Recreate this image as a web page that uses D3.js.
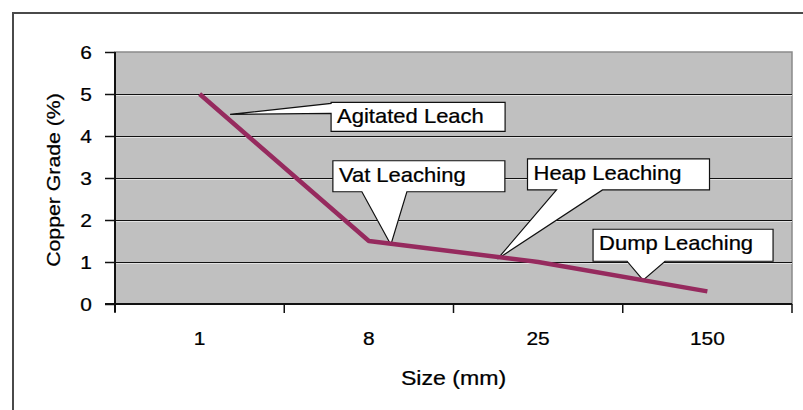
<!DOCTYPE html>
<html>
<head>
<meta charset="utf-8">
<script src="https://cdn.jsdelivr.net/npm/d3@7"></script>
<style>
  html, body { margin: 0; padding: 0; background: #fff; }
  svg { display: block; }
  text { font-family: "Liberation Sans", Arial, sans-serif; fill: #000; stroke: #000; stroke-width: 0.25px; }
</style>
</head>
<body>
<svg id="chart" width="803" height="410"></svg>
<script>
// ---- data ----
const categories = ["1", "8", "25", "150"];
const copperGrade = [5.0, 1.5, 1.0, 0.3];
const yTickValues = [0, 1, 2, 3, 4, 5, 6];
const calloutLabels = ["Agitated Leach", "Vat Leaching", "Heap Leaching", "Dump Leaching"];
// callout anchor: segment index along the line and fraction within it
const calloutSegments = [0, 1, 1, 2];
const calloutFractions = [0.18, 0.13, 0.76, 0.62];
const xTitle = "Size (mm)";
const yTitle = "Copper Grade (%)";

// ---- layout ----
const W = 803, H = 410;
const plot = { left: 115, top: 52, right: 792, bottom: 304 };
const SX = 1.1; // horizontal text stretch seen in the reference

const svg = d3.select("#chart");

// outer chart border
svg.append("rect")
  .attr("x", 13).attr("y", 13)
  .attr("width", W + 20).attr("height", H + 20)
  .attr("fill", "#fff").attr("stroke", "#4a4a4a").attr("stroke-width", 2);

const x = d3.scaleBand().domain(categories).range([plot.left, plot.right]).padding(0);
const y = d3.scaleLinear().domain([0, 6]).range([plot.bottom, plot.top]);
const cx = c => x(c) + x.bandwidth() / 2;

// plot area
svg.append("rect")
  .attr("x", plot.left).attr("y", plot.top)
  .attr("width", plot.right - plot.left).attr("height", plot.bottom - plot.top)
  .attr("fill", "#c0c0c0").attr("stroke", "#8a8a8a").attr("stroke-width", 1.5);

// gridlines
const grid = svg.append("g");
yTickValues.filter(v => v > 0 && v < 6).forEach(v => {
  grid.append("line")
    .attr("x1", plot.left).attr("x2", plot.right)
    .attr("y1", Math.round(y(v)) + 1.5).attr("y2", Math.round(y(v)) + 1.5)
    .attr("stroke", "#e2e2e2").attr("stroke-width", 1);
  grid.append("line")
    .attr("x1", plot.left).attr("x2", plot.right)
    .attr("y1", Math.round(y(v)) + 0.5).attr("y2", Math.round(y(v)) + 0.5)
    .attr("stroke", "#111").attr("stroke-width", 1);
});

// y axis
const yAxis = d3.axisLeft(y).tickValues(yTickValues).tickSize(10).tickPadding(10).tickFormat(d3.format("d"));
const gy = svg.append("g").attr("transform", `translate(${plot.left},0)`).call(yAxis);
gy.select(".domain").attr("stroke", "#111").attr("stroke-width", 2)
  .attr("d", `M0,${plot.top}V${plot.bottom + 8}`);
gy.selectAll(".tick line").attr("stroke", "#111").attr("stroke-width", 1.5);
gy.selectAll(".tick text")
  .style("font-size", "19px")
  .each(function() {
    const t = d3.select(this);
    const tx = +t.attr("x");
    t.attr("x", 0).attr("transform", `translate(${tx - 3},0) scale(${SX},1)`);
  });

// x axis (category boundaries as ticks)
const gx = svg.append("g").attr("transform", `translate(0,${plot.bottom})`);
gx.append("line").attr("x1", plot.left - 10).attr("x2", plot.right)
  .attr("y1", 0).attr("y2", 0).attr("stroke", "#111").attr("stroke-width", 2);
const boundaries = categories.map(c => x(c)).concat([plot.right]);
gx.selectAll("line.tk").data(boundaries).join("line").attr("class", "tk")
  .attr("x1", d => d).attr("x2", d => d).attr("y1", 0).attr("y2", 9)
  .attr("stroke", "#111").attr("stroke-width", 1.5);
gx.selectAll("text.lbl").data(categories).join("text").attr("class", "lbl")
  .attr("transform", d => `translate(${cx(d)},41) scale(${SX},1)`)
  .attr("text-anchor", "middle").style("font-size", "19px").text(d => d);

// axis titles
svg.append("text")
  .attr("transform", `translate(${(plot.left + plot.right) / 2},385) scale(${SX},1)`)
  .attr("text-anchor", "middle").style("font-size", "21px").text(xTitle);
svg.append("text")
  .attr("transform", `translate(60,180) rotate(-90) scale(1.12,1)`)
  .attr("text-anchor", "middle").style("font-size", "19px").text(yTitle);

// series points
const pts = categories.map((c, i) => [cx(c), y(copperGrade[i])]);

// callouts (box offsets relative to anchor are layout)
const calloutLayout = [
  { side: "left",   dx: 101, dy: -12, w: 174, h: 29, base: [1, 11], ady: -6 },
  { side: "bottom", dx: -58, dy: -84, w: 172, h: 31, base: [29, 74], ady: 1 },
  { side: "bottom", dx: 30,  dy: -100, w: 182, h: 31, base: [29, 75], ady: 2 },
  { side: "bottom", dx: -50, dy: -51, w: 180, h: 32, base: [34, 72], ady: 0 }
];
const cg = svg.append("g");
calloutLabels.forEach((label, i) => {
  const s = calloutSegments[i], f = calloutFractions[i];
  const ax = pts[s][0] + (pts[s + 1][0] - pts[s][0]) * f;
  const ay = pts[s][1] + (pts[s + 1][1] - pts[s][1]) * f + calloutLayout[i].ady;
  const L = calloutLayout[i];
  const bx = ax + L.dx, by = ay + L.dy;
  const p = d3.path();
  if (L.side === "left") {
    p.moveTo(bx, by);
    p.lineTo(bx + L.w, by);
    p.lineTo(bx + L.w, by + L.h);
    p.lineTo(bx, by + L.h);
    p.lineTo(bx, by + L.base[1]);
    p.lineTo(ax, ay);
    p.lineTo(bx, by + L.base[0]);
    p.closePath();
  } else {
    p.moveTo(bx, by);
    p.lineTo(bx + L.w, by);
    p.lineTo(bx + L.w, by + L.h);
    p.lineTo(bx + L.base[1], by + L.h);
    p.lineTo(ax, ay);
    p.lineTo(bx + L.base[0], by + L.h);
    p.lineTo(bx, by + L.h);
    p.closePath();
  }
  cg.append("path").attr("d", p.toString())
    .attr("fill", "#fff").attr("stroke", "#111").attr("stroke-width", 1.2)
    .attr("stroke-linejoin", "miter");
  cg.append("text")
    .attr("transform", `translate(${bx + 6},${by + 21}) scale(${SX},1)`)
    .style("font-size", "20px").text(label);
});

// series line
svg.append("path")
  .datum(pts)
  .attr("d", d3.line())
  .attr("fill", "none").attr("stroke", "#962a5e").attr("stroke-width", 4.5)
  .attr("stroke-linejoin", "round");
</script>
</body>
</html>
